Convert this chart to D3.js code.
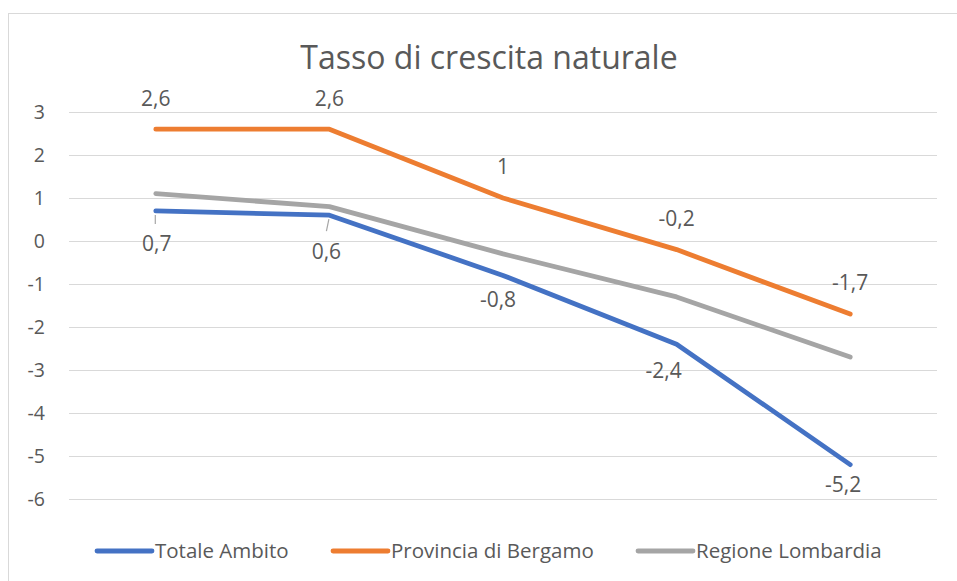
<!DOCTYPE html>
<html>
    <head>
        <style>
            body{
                margin: 0;
                background: #fff;
            }
            text{
                font-family: "Open Sans", sans-serif;
                fill: #595959;
            }
        </style>
        <script src="https://d3js.org/d3.v7.min.js"></script>
    </head>
    <body>
        <script>
        // data
        const categories = ["1", "2", "3", "4", "5"];
        const totaleAmbito = [0.7, 0.6, -0.8, -2.4, -5.2];
        const provinciaBergamo = [2.6, 2.6, 1, -0.2, -1.7];
        const regioneLombardia = [1.1, 0.8, -0.3, -1.3, -2.7];
        const yTicks = [3, 2, 1, 0, -1, -2, -3, -4, -5, -6];

        const series = [
            {name: "Totale Ambito", values: totaleAmbito, col: "#4472C4"},
            {name: "Provincia di Bergamo", values: provinciaBergamo, col: "#ED7D31"},
            {name: "Regione Lombardia", values: regioneLombardia, col: "#A5A5A5"}
        ];

        // small nudges Excel applied to the labels below the blue line
        const belowNudge = [[1, 33], [-3, 36], [-5, 24], [-13, 26], [-7, 20]];

        const w = 957;
        const h = 581;
        const svg = d3.select("body")
                    .append("svg")
                    .attr("width", w)
                    .attr("height", h);

        // chart border
        svg.append("rect")
            .attr("x", 8.5)
            .attr("y", 13.5)
            .attr("width", 1000)
            .attr("height", 700)
            .attr("fill", "#fff")
            .attr("stroke", "#D9D9D9");

        const x = d3.scaleBand()
                    .domain(categories)
                    .range([69, 937]);
        const y = d3.scaleLinear()
                    .domain([-6, 3])
                    .range([499, 112]);
        const cx = d => x(d) + x.bandwidth() / 2;

        svg.append("text")
            .attr("x", 489)
            .attr("y", 69)
            .attr("text-anchor", "middle")
            .style("font-size", "32px")
            .text("Tasso di crescita naturale");

        // gridlines + tick labels
        const yAxis = svg.append("g")
            .attr("transform", "translate(69,0)")
            .call(d3.axisLeft(y)
                .tickValues(yTicks)
                .tickSize(-(937 - 69))
                .tickPadding(24)
                .tickFormat(d => d));
        yAxis.select(".domain").remove();
        yAxis.selectAll(".tick line")
            .attr("stroke", "#D9D9D9")
            .attr("stroke-width", 1);
        yAxis.selectAll(".tick text")
            .style("font-size", "19.5px")
            .attr("fill", "#595959")
            .attr("font-family", "Open Sans");

        const line = d3.line()
                    .x((d, i) => cx(categories[i]))
                    .y(d => y(d));

        series.forEach(s => {
            svg.append("path")
                .datum(s.values)
                .attr("d", line)
                .attr("fill", "none")
                .attr("stroke", s.col)
                .attr("stroke-width", 4.8)
                .attr("stroke-linecap", "round")
                .attr("stroke-linejoin", "round");
        });

        const fmt = v => String(v).replace(".", ",");

        // orange labels above
        svg.append("g")
            .selectAll("text")
            .data(provinciaBergamo)
            .enter()
            .append("text")
            .attr("x", (d, i) => cx(categories[i]))
            .attr("y", d => y(d) - 31)
            .attr("dy", "0.35em")
            .attr("text-anchor", "middle")
            .style("font-size", "21px")
            .text(fmt);

        // blue labels below
        svg.append("g")
            .selectAll("text")
            .data(totaleAmbito)
            .enter()
            .append("text")
            .attr("x", (d, i) => cx(categories[i]) + belowNudge[i][0])
            .attr("y", (d, i) => y(d) + belowNudge[i][1])
            .attr("dy", "0.35em")
            .attr("text-anchor", "middle")
            .style("font-size", "21px")
            .text(fmt);

        // leader lines for the first two blue labels
        svg.append("g")
            .selectAll("line")
            .data(totaleAmbito.slice(0, 2))
            .enter()
            .append("line")
            .attr("x1", (d, i) => cx(categories[i]) - 0.5)
            .attr("y1", d => y(d) + 4)
            .attr("x2", (d, i) => cx(categories[i]) + (i == 0 ? -0.5 : -3))
            .attr("y2", (d, i) => y(d) + (i == 0 ? 13 : 16))
            .attr("stroke", "#A6A6A6")
            .attr("stroke-width", 1.2);

        // legend
        const legendX = [97, 333, 638];
        const legend = svg.append("g")
                        .selectAll("g")
                        .data(series)
                        .enter()
                        .append("g")
                        .attr("transform", (d, i) => "translate(" + legendX[i] + ",551)");
        legend.append("line")
            .attr("x1", 0)
            .attr("x2", 55)
            .attr("stroke", d => d.col)
            .attr("stroke-width", 4.8)
            .attr("stroke-linecap", "round");
        legend.append("text")
            .attr("x", 58)
            .attr("dy", "0.35em")
            .style("font-size", "20.5px")
            .text(d => d.name);
        </script>
    </body>
</html>
